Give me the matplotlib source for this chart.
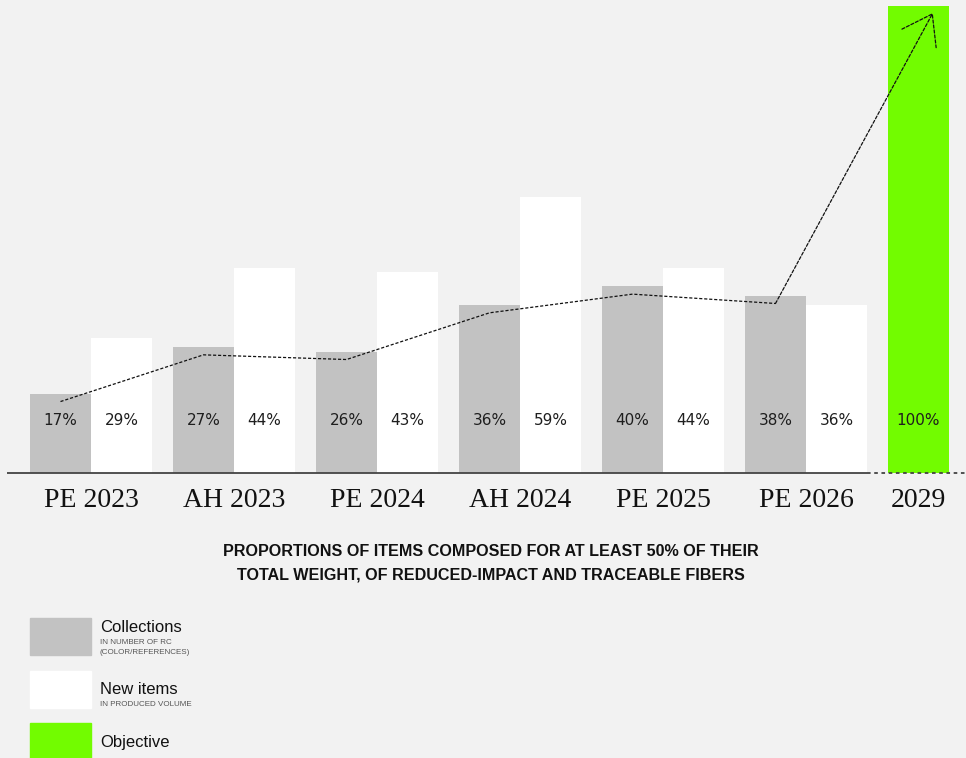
import numpy as np
import matplotlib.pyplot as plt
from matplotlib.patches import Rectangle

# data
periods = ['PE 2023', 'AH 2023', 'PE 2024', 'AH 2024', 'PE 2025', 'PE 2026']
collections = [17, 27, 26, 36, 40, 38]
new_items = [29, 44, 43, 59, 44, 36]
objective_label = '2029'
objective_value = 100

BG = '#f2f2f2'
GREY = '#c2c2c2'
WHITE = '#ffffff'
GREEN = '#72fc00'

W, H = 966, 758
fig = plt.figure(figsize=(W / 100, H / 100), dpi=100, facecolor=BG)

# bar area: baseline at y=473 px, 100% at y=6 px
ax = fig.add_axes([0, (H - 473) / H, 1, 467 / H])
ax.set_facecolor(BG)
ax.axis('off')
pitch = 143
w = 61 / pitch
ax.set_xlim(-60.5 / pitch, (W - 60.5) / pitch)
ax.set_ylim(0, 100)

x = np.arange(len(periods))
ax.bar(x, collections, width=w, color=GREY, zorder=1)
ax.bar(x + w, new_items, width=w, color=WHITE, zorder=1)
x_obj = len(periods)
ax.bar([x_obj], [objective_value], width=w, color=GREEN, zorder=1)

lab_y = 11.3
pct_font = dict(fontsize=11, color='#1e1e1e', ha='center', va='center',
                family='DejaVu Sans', zorder=3)
for i in range(len(periods)):
    ax.text(x[i], lab_y, f'{collections[i]}%', **pct_font)
    ax.text(x[i] + w, lab_y, f'{new_items[i]}%', **pct_font)
    ax.text(x[i] + w / 2, -5.8, periods[i], fontsize=20, family='Liberation Serif',
            ha='center', va='center', color='#111111', clip_on=False)
ax.text(x_obj, lab_y, f'{objective_value}%', **pct_font)
ax.text(x_obj, -5.8, objective_label, fontsize=20, family='Liberation Serif',
        ha='center', va='center', color='#111111', clip_on=False)

# baseline
end_solid = x[-1] + 1.5 * w
ax.plot([-w / 2 - 0.16, end_solid], [0, 0], color='#444444', lw=1.3,
        solid_capstyle='butt', clip_on=False, zorder=2)
ax.plot([end_solid, ax.get_xlim()[1]], [0, 0], color='#444444', lw=1.3,
        linestyle=(0, (2, 2)), clip_on=False, zorder=2)

# trend line through the collections, ending in an arrow on the objective
tx = list(x)
ty = [v - 1.7 for v in collections]
ax.plot(tx, ty, color='#111111', lw=0.9, linestyle=(0, (2.5, 1.5)), zorder=4)
tip = (x_obj + 0.1, objective_value - 1.5)
ax.annotate('', xy=tip, xytext=(tx[-1], ty[-1]),
            arrowprops=dict(arrowstyle='->,head_length=2.0,head_width=1.4',
                            color='#111111', lw=0.9, linestyle=(0, (2.5, 1.5)),
                            shrinkA=0, shrinkB=0), zorder=4)

# title
def px(xp, yp):
    return xp / W, 1 - yp / H

title_font = dict(fontsize=11.6, fontweight='bold', family='Liberation Sans',
                  ha='center', va='center', color='#111111')
fig.text(*px(491, 552), 'PROPORTIONS OF ITEMS COMPOSED FOR AT LEAST 50% OF THEIR', **title_font)
fig.text(*px(491, 575), 'TOTAL WEIGHT, OF REDUCED-IMPACT AND TRACEABLE FIBERS', **title_font)

# legend
legend_items = [
    ('Collections', ['IN NUMBER OF RC', '(COLOR/REFERENCES)'], GREY, 618),
    ('New items', ['IN PRODUCED VOLUME'], WHITE, 671),
    ('Objective', [], GREEN, 723),
]
for name, subs, col, top in legend_items:
    fig.patches.append(Rectangle(px(30, top + 37), 61 / W, 37 / H,
                                 transform=fig.transFigure, color=col))
    ty0 = top + 9 if subs else top + 20
    if name == 'New items':
        ty0 = top + 18
    fig.text(*px(100, ty0), name, fontsize=12, family='Liberation Sans',
             ha='left', va='center', color='#111111')
    for k, s in enumerate(subs):
        fig.text(*px(100, ty0 + 15 + 11 * k), s, fontsize=5.8, family='Liberation Sans',
                 ha='left', va='center', color='#555555')

fig.savefig('out.png', dpi=100, facecolor=BG)
